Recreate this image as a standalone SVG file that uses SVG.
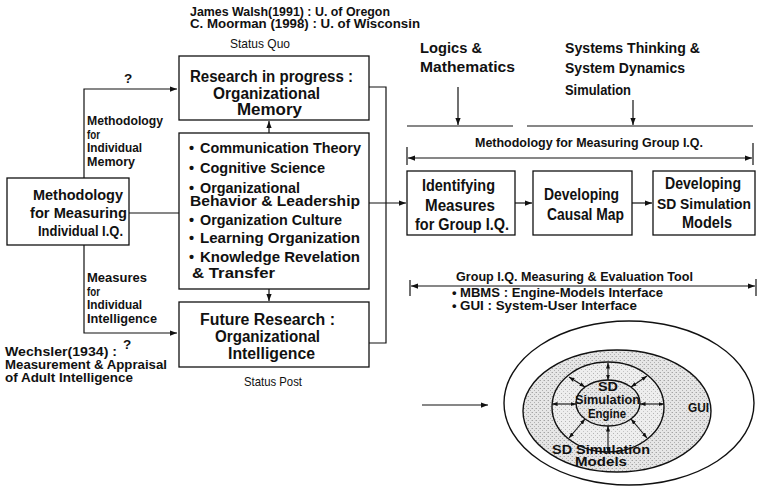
<svg xmlns="http://www.w3.org/2000/svg" width="758" height="488" viewBox="0 0 758 488">
<defs>
<style>
text { font-family: "Liberation Sans", Arial, sans-serif; fill: #111; }
.b { font-weight: bold; }
.r { font-weight: normal; }
.f125 { font-size: 12.5px; }
.f13 { font-size: 13px; }
.f135 { font-size: 13.5px; }
.f145 { font-size: 14.5px; }
.f15 { font-size: 15px; }
.f155 { font-size: 15.5px; }
.f16 { font-size: 16px; }
.box { fill: #fff; stroke: #111; stroke-width: 1.3; }
.ln { fill: none; stroke: #111; stroke-width: 1.2; }
.arr { marker-end: url(#ah); }
.dbl { marker-start: url(#ah); marker-end: url(#ah); }
.sdbl { fill: none; stroke: #111; stroke-width: 1.1; marker-start: url(#ahs); marker-end: url(#ahs); }
.ring { stroke: #111; stroke-width: 1.4; }
</style>
<marker id="ah" viewBox="0 0 8 6" refX="8" refY="3" markerWidth="7" markerHeight="5.5" markerUnits="userSpaceOnUse" orient="auto-start-reverse">
  <path d="M0,0 L8,3 L0,6 z" fill="#111"/>
</marker>
<marker id="ahs" viewBox="0 0 8 6" refX="8" refY="3" markerWidth="5.5" markerHeight="4.5" markerUnits="userSpaceOnUse" orient="auto-start-reverse">
  <path d="M0,0 L8,3 L0,6 z" fill="#111"/>
</marker>
<pattern id="stipple" width="4" height="4" patternUnits="userSpaceOnUse">
  <rect width="4" height="4" fill="#e6e6e6"/>
  <rect x="0" y="0" width="1" height="1" fill="#a4a4a4"/>
  <rect x="2" y="2" width="1" height="1" fill="#b0b0b0"/>
  <rect x="3" y="0" width="1" height="1" fill="#cacaca"/>
</pattern>
<pattern id="stippleLight" width="4" height="4" patternUnits="userSpaceOnUse">
  <rect width="4" height="4" fill="#eeeeee"/>
  <rect x="1" y="1" width="1" height="1" fill="#b4b4b4"/>
  <rect x="3" y="3" width="1" height="1" fill="#c4c4c4"/>
</pattern>
</defs>

<rect width="758" height="488" fill="#fff"/>

<!-- references and status captions -->
<g id="citations">
  <text class="b f125" x="190" y="16" textLength="200" lengthAdjust="spacingAndGlyphs">James Walsh(1991) : U. of Oregon</text>
  <text class="b f125" x="190" y="28" textLength="230" lengthAdjust="spacingAndGlyphs">C. Moorman (1998)  :  U. of Wisconsin</text>
  <text class="r f13" x="230" y="48" textLength="60" lengthAdjust="spacingAndGlyphs">Status Quo</text>
  <text class="r f13" x="244" y="386" textLength="58" lengthAdjust="spacingAndGlyphs">Status Post</text>
</g>

<!-- connectors -->
<g id="connectors">
  <path class="ln arr" d="M84,178 V89 H177"/>
  <path class="ln arr" d="M84,245 V333 H177"/>
  <path class="ln" d="M129,213 H179"/>
  <path class="ln arr" d="M269,133 V121"/>
  <path class="ln arr" d="M269,289 V301"/>
  <path class="ln" d="M369,87 H386 V343 H369"/>
  <path class="ln arr" d="M369,203 H406"/>
  <path class="ln arr" d="M458,87 V125"/>
  <path class="ln arr" d="M633,100 V125"/>
  <path class="ln" d="M407,126 H513"/>
  <path class="ln" d="M527,126 H753"/>
  <path class="ln dbl" d="M408,158 H752"/>
  <path class="ln" d="M407,147 V165"/>
  <path class="ln" d="M753,143 V165"/>
  <path class="ln arr" d="M515,203 H532"/>
  <path class="ln arr" d="M632,203 H652"/>
  <path class="ln dbl" d="M411,286 H755"/>
  <path class="ln" d="M410,280 V296"/>
  <path class="ln" d="M756,279 V296"/>
  <path class="ln arr" d="M422,405 H488"/>
</g>

<!-- connector labels -->
<g id="edge-labels">
  <text class="b f135" x="124" y="83">?</text>
  <text class="b f135" x="123" y="349">?</text>
  <text class="b f13" x="87" y="125" textLength="76" lengthAdjust="spacingAndGlyphs">Methodology</text>
  <text class="b f13" x="87" y="138.5" textLength="13" lengthAdjust="spacingAndGlyphs">for</text>
  <text class="b f13" x="87" y="152" textLength="55" lengthAdjust="spacingAndGlyphs">Individual</text>
  <text class="b f13" x="87" y="165.5" textLength="48" lengthAdjust="spacingAndGlyphs">Memory</text>
  <text class="b f13" x="87" y="282" textLength="60" lengthAdjust="spacingAndGlyphs">Measures</text>
  <text class="b f13" x="87" y="295.5" textLength="13" lengthAdjust="spacingAndGlyphs">for</text>
  <text class="b f13" x="87" y="309" textLength="55" lengthAdjust="spacingAndGlyphs">Individual</text>
  <text class="b f13" x="87" y="322.5" textLength="70" lengthAdjust="spacingAndGlyphs">Intelligence</text>
  <text class="b f13" x="5" y="356" textLength="112" lengthAdjust="spacingAndGlyphs">Wechsler(1934) :</text>
  <text class="b f13" x="5" y="369" textLength="162" lengthAdjust="spacingAndGlyphs">Measurement &amp; Appraisal</text>
  <text class="b f13" x="5" y="382" textLength="128" lengthAdjust="spacingAndGlyphs">of Adult Intelligence</text>
  <text class="b f15" x="420" y="53" textLength="62" lengthAdjust="spacingAndGlyphs">Logics &amp;</text>
  <text class="b f15" x="420" y="72" textLength="95" lengthAdjust="spacingAndGlyphs">Mathematics</text>
  <text class="b f15" x="565" y="53" textLength="135" lengthAdjust="spacingAndGlyphs">Systems Thinking &amp;</text>
  <text class="b f15" x="565" y="73" textLength="120" lengthAdjust="spacingAndGlyphs">System Dynamics</text>
  <text class="b f15" x="565" y="95" textLength="66" lengthAdjust="spacingAndGlyphs">Simulation</text>
  <text class="b f13" x="475" y="147" textLength="228" lengthAdjust="spacingAndGlyphs">Methodology for Measuring Group I.Q.</text>
  <text class="b f135" x="456" y="281" textLength="237" lengthAdjust="spacingAndGlyphs">Group I.Q. Measuring &amp; Evaluation Tool</text>
  <text class="b f13" x="452" y="297">•</text>
  <text class="b f13" x="460" y="297" textLength="203" lengthAdjust="spacingAndGlyphs">MBMS : Engine-Models Interface</text>
  <text class="b f13" x="452" y="310">•</text>
  <text class="b f13" x="460" y="310" textLength="177" lengthAdjust="spacingAndGlyphs">GUI : System-User Interface</text>
</g>

<!-- left node -->
<g id="individual-iq">
  <rect class="box" x="7" y="178" width="122" height="67"/>
  <text class="b f155" x="33" y="200" textLength="90" lengthAdjust="spacingAndGlyphs">Methodology</text>
  <text class="b f155" x="30" y="218" textLength="97" lengthAdjust="spacingAndGlyphs">for Measuring</text>
  <text class="b f155" x="38" y="236" textLength="85" lengthAdjust="spacingAndGlyphs">Individual I.Q.</text>
</g>

<g id="organizational-memory">
  <rect class="box" x="179" y="56" width="190" height="64"/>
  <text class="b f16" x="190" y="82" textLength="163" lengthAdjust="spacingAndGlyphs">Research in progress :</text>
  <text class="b f16" x="213" y="99" textLength="107" lengthAdjust="spacingAndGlyphs">Organizational</text>
  <text class="b f16" x="237" y="115" textLength="65" lengthAdjust="spacingAndGlyphs">Memory</text>
</g>

<g id="disciplines">
  <rect class="box" x="179" y="133" width="190" height="156"/>
  <text class="b f145" x="189" y="153">•</text>
  <text class="b f145" x="200" y="153" textLength="161" lengthAdjust="spacingAndGlyphs">Communication Theory</text>
  <text class="b f145" x="189" y="173">•</text>
  <text class="b f145" x="200" y="173" textLength="125" lengthAdjust="spacingAndGlyphs">Cognitive Science</text>
  <text class="b f145" x="189" y="193">•</text>
  <text class="b f145" x="200" y="192.5" textLength="100" lengthAdjust="spacingAndGlyphs">Organizational</text>
  <text class="b f145" x="190" y="205.5" textLength="170" lengthAdjust="spacingAndGlyphs">Behavior &amp; Leadership</text>
  <text class="b f145" x="189" y="225">•</text>
  <text class="b f145" x="200" y="225" textLength="142" lengthAdjust="spacingAndGlyphs">Organization Culture</text>
  <text class="b f145" x="189" y="242.5">•</text>
  <text class="b f145" x="200" y="242.5" textLength="160" lengthAdjust="spacingAndGlyphs">Learning Organization</text>
  <text class="b f145" x="189" y="262">•</text>
  <text class="b f145" x="200" y="262" textLength="160" lengthAdjust="spacingAndGlyphs">Knowledge Revelation</text>
  <text class="b f145" x="192" y="277.5" textLength="83" lengthAdjust="spacingAndGlyphs">&amp; Transfer</text>
</g>

<g id="organizational-intelligence">
  <rect class="box" x="179" y="302" width="190" height="65"/>
  <text class="b f16" x="200" y="325" textLength="135" lengthAdjust="spacingAndGlyphs">Future Research :</text>
  <text class="b f16" x="215" y="342" textLength="105" lengthAdjust="spacingAndGlyphs">Organizational</text>
  <text class="b f16" x="228" y="359" textLength="87" lengthAdjust="spacingAndGlyphs">Intelligence</text>
</g>

<g id="identifying-measures">
  <rect class="box" x="407" y="171" width="108" height="64"/>
  <text class="b f16" x="422" y="191" textLength="73" lengthAdjust="spacingAndGlyphs">Identifying</text>
  <text class="b f16" x="425" y="211" textLength="70" lengthAdjust="spacingAndGlyphs">Measures</text>
  <text class="b f16" x="415" y="230" textLength="94" lengthAdjust="spacingAndGlyphs">for Group I.Q.</text>
</g>

<g id="causal-map">
  <rect class="box" x="533" y="171" width="99" height="64"/>
  <text class="b f16" x="544" y="200" textLength="75" lengthAdjust="spacingAndGlyphs">Developing</text>
  <text class="b f16" x="547" y="220" textLength="77" lengthAdjust="spacingAndGlyphs">Causal Map</text>
</g>

<g id="sd-models">
  <rect class="box" x="653" y="171" width="102" height="64"/>
  <text class="b f16" x="665" y="189" textLength="76" lengthAdjust="spacingAndGlyphs">Developing</text>
  <text class="b f155" x="657" y="209" textLength="94" lengthAdjust="spacingAndGlyphs">SD Simulation</text>
  <text class="b f16" x="682" y="228" textLength="50" lengthAdjust="spacingAndGlyphs">Models</text>
</g>

<!-- evaluation tool: nested layers -->
<g id="evaluation-tool">
  <ellipse class="ring" cx="629" cy="403" rx="125" ry="82" fill="#fff"/>
  <ellipse class="ring" cx="617" cy="411" rx="94" ry="61" fill="url(#stipple)"/>
  <ellipse class="ring" cx="608" cy="407" rx="56" ry="45" fill="url(#stippleLight)"/>
  <ellipse class="ring" cx="608" cy="403" rx="32" ry="23" fill="url(#stipple)"/>
  <path class="sdbl" d="M608,380 V363"/>
  <path class="sdbl" d="M608,426 V452"/>
  <path class="sdbl" d="M576,404 H552"/>
  <path class="sdbl" d="M640,404 H664"/>
  <path class="sdbl" d="M585,387 L569,377"/>
  <path class="sdbl" d="M631,387 L647,376"/>
  <path class="sdbl" d="M585,419 L569,438"/>
  <path class="sdbl" d="M631,419 L647,438"/>
  <text class="b f135" x="598" y="391" textLength="20" lengthAdjust="spacingAndGlyphs">SD</text>
  <text class="b f135" x="575" y="404" textLength="65" lengthAdjust="spacingAndGlyphs">Simulation</text>
  <text class="b f135" x="588" y="418" textLength="38" lengthAdjust="spacingAndGlyphs">Engine</text>
  <text class="b f135" x="552" y="454" textLength="98" lengthAdjust="spacingAndGlyphs">SD Simulation</text>
  <text class="b f135" x="575" y="466" textLength="52" lengthAdjust="spacingAndGlyphs">Models</text>
  <text class="b f13" x="688" y="412" textLength="21" lengthAdjust="spacingAndGlyphs">GUI</text>
</g>
</svg>
